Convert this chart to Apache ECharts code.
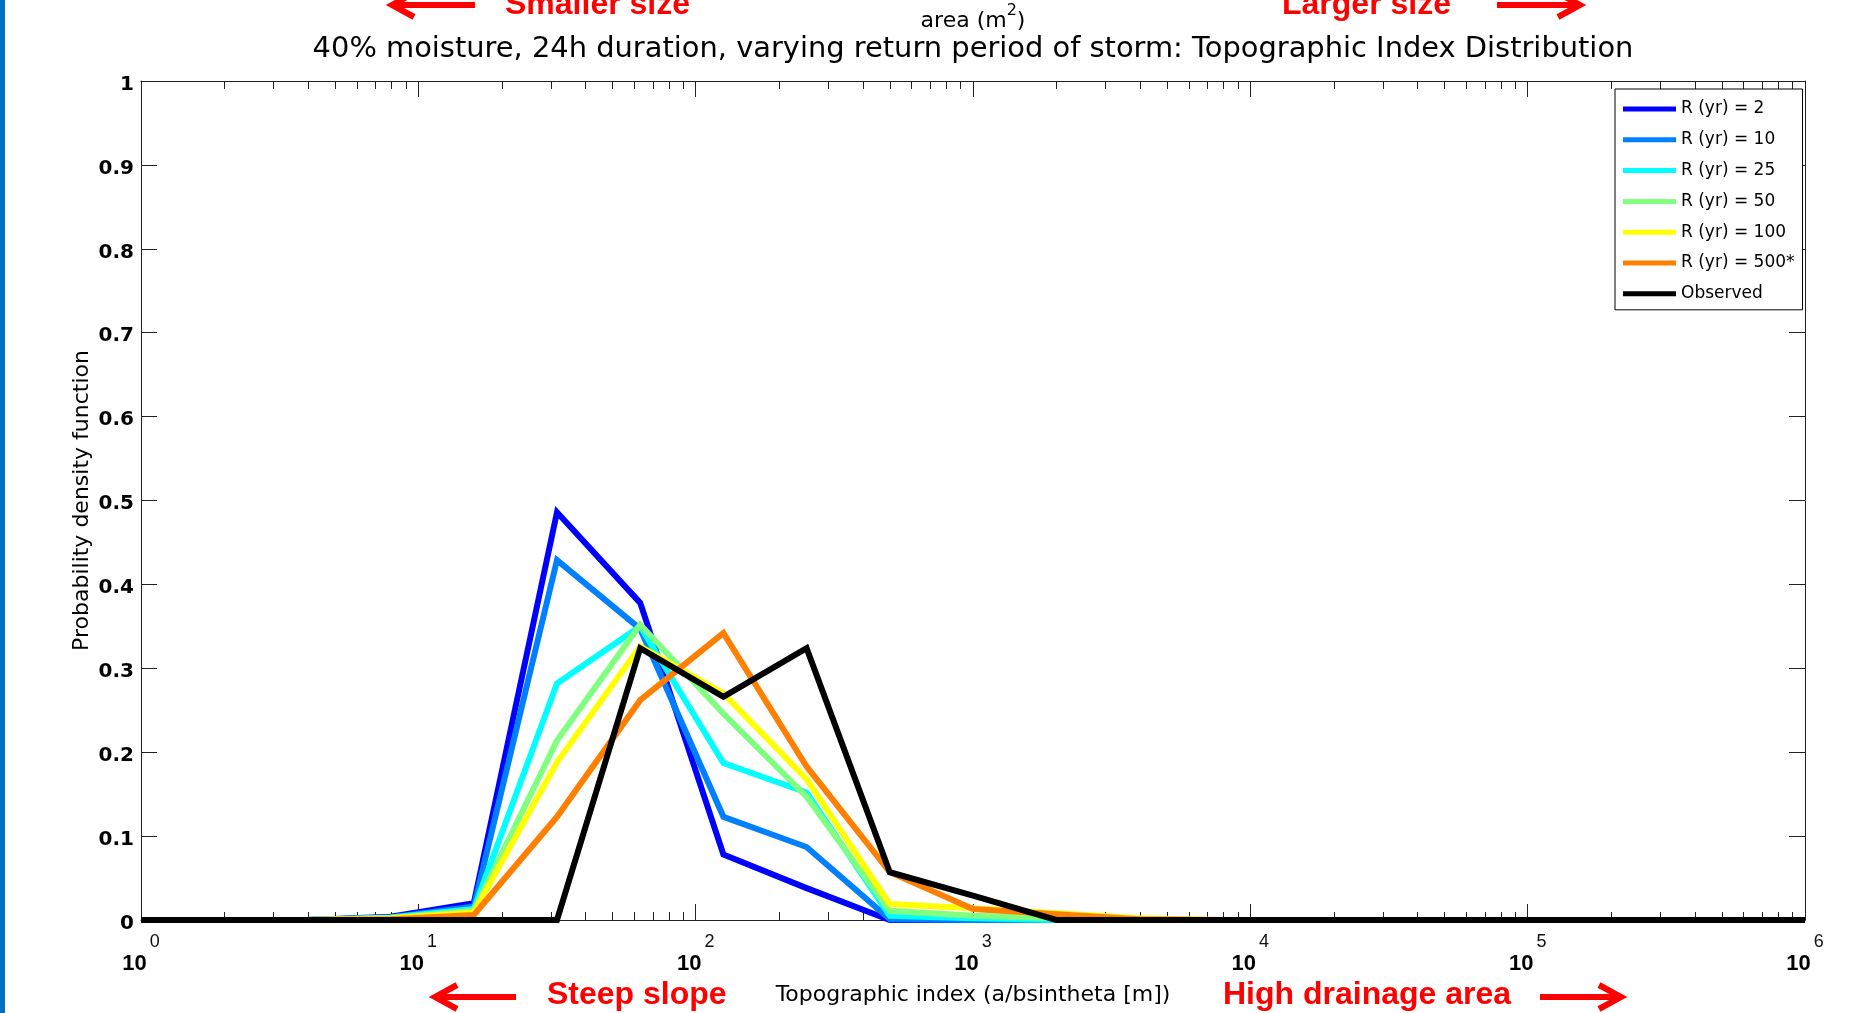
<!DOCTYPE html>
<html><head><meta charset="utf-8">
<script src="https://cdn.jsdelivr.net/npm/echarts@6/dist/echarts.min.js"></script>
<style>html,body{margin:0;padding:0;background:#fff;}#c{width:1872px;height:1013px;}</style>
</head><body><div id="c"></div>
<script>
// x positions are log10 of the topographic index
const xExponents = [0,0.3,0.6,0.9,1.2,1.5,1.8,2.1,2.4,2.7,3.0,3.3,3.6,3.9,4.2,4.5,4.8,5.1,5.4,5.7,6.0];
const seriesNames = ['R (yr) = 2','R (yr) = 10','R (yr) = 25','R (yr) = 50','R (yr) = 100','R (yr) = 500*','Observed'];
const seriesColors = ['#0000FF','#0080FF','#00FFFF','#80FF80','#FFFF00','#FF8000','#000000'];
const r2   = [0,0,0,0.004,0.020,0.486,0.378,0.078,0.038,0,0,0,0,0,0,0,0,0,0,0,0];
const r10  = [0,0,0,0.003,0.016,0.429,0.347,0.123,0.087,0.001,0,0,0,0,0,0,0,0,0,0,0];
const r25  = [0,0,0,0.003,0.013,0.282,0.350,0.187,0.152,0.005,0.002,0,0,0,0,0,0,0,0,0,0];
const r50  = [0,0,0,0.002,0.011,0.214,0.352,0.246,0.147,0.011,0.005,0.002,0,0,0,0,0,0,0,0,0];
const r100 = [0,0,0,0.002,0.009,0.188,0.326,0.270,0.168,0.019,0.014,0.008,0.002,0,0,0,0,0,0,0,0];
const r500 = [0,0,0,0.001,0.006,0.123,0.262,0.342,0.183,0.057,0.013,0.007,0.001,0,0,0,0,0,0,0,0];
const observed = [0,0,0,0,0,0,0.324,0.266,0.324,0.057,0.029,0,0,0,0,0,0,0,0,0,0];
const seriesValues = [r2, r10, r25, r50, r100, r500, observed];
const xTickExponents = [0,1,2,3,4,5,6];
const yTickLabels = ['0','0.1','0.2','0.3','0.4','0.5','0.6','0.7','0.8','0.9','1'];
const minorMultipliers = [2,3,4,5,6,7,8,9];

const minorPositions = [];
for (let k = 0; k < xTickExponents.length - 1; k++) {
  minorMultipliers.forEach(m => minorPositions.push([xTickExponents[k] + Math.log10(m), 0]));
}

const chart = echarts.init(document.getElementById('c'), null, {renderer: 'canvas'});
const normalFont = 'DejaVu Sans';
const series = [{
  type: 'custom', silent: true, z: 1,
  data: minorPositions, encode: {x: 0, y: 1},
  renderItem: function (params, api) {
    const x = api.value(0);
    const pb = api.coord([x, 0]);
    const pt = api.coord([x, 1]);
    const px = Math.round(pb[0]) + 0.5;
    return {type: 'group', children: [
      {type: 'line', shape: {x1: px, y1: pb[1], x2: px, y2: pb[1] - 8}, style: {stroke: '#222', lineWidth: 1}},
      {type: 'line', shape: {x1: px, y1: pt[1], x2: px, y2: pt[1] + 8}, style: {stroke: '#222', lineWidth: 1}}
    ]};
  }
}];
seriesNames.forEach((name, i) => {
  series.push({
    name: name, type: 'line', symbol: 'none', showSymbol: false, z: 2,
    data: xExponents.map((x, j) => [x, seriesValues[i][j]]),
    lineStyle: {width: 6, color: seriesColors[i], join: 'miter'},
    itemStyle: {color: seriesColors[i]}
  });
});

const axisLineStyle = {color: '#222', width: 1};
const option = {
  animation: false,
  backgroundColor: '#fff',
  title: {
    text: '40% moisture, 24h duration, varying return period of storm: Topographic Index Distribution',
    left: 968, textAlign: 'center', top: 30,
    textStyle: {fontFamily: normalFont, fontSize: 28.9, fontWeight: 'normal', color: '#000'}
  },
  grid: {left: 141, right: 67, top: 81, bottom: 93, containLabel: false},
  legend: {
    data: seriesNames, orient: 'vertical', left: 1615, top: 89,
    padding: [11, 8, 7, 8], itemGap: 12.8, itemWidth: 53, itemHeight: 5, icon: 'rect',
    backgroundColor: '#fff', borderColor: '#000', borderWidth: 1,
    textStyle: {fontFamily: normalFont, fontSize: 17, lineHeight: 18, color: '#000'}
  },
  xAxis: [{
    type: 'value', min: 0, max: 6, interval: 1, position: 'bottom',
    name: 'Topographic index (a/bsintheta [m])', nameLocation: 'middle', nameGap: 64, nameMoveOverlap: false,
    nameTextStyle: {fontFamily: normalFont, fontSize: 22, color: '#000'},
    axisLine: {show: true, onZero: false, lineStyle: axisLineStyle},
    axisTick: {show: true, inside: true, length: 16, lineStyle: axisLineStyle},
    splitLine: {show: false},
    axisLabel: {
      margin: 33, showMinLabel: true, showMaxLabel: true,
      formatter: function (v) { return '{b|10}{e|' + v + '}'; },
      rich: {
        b: {fontFamily: 'Liberation Sans', fontSize: 22, fontWeight: 'bold', lineHeight: 22, verticalAlign: 'bottom', color: '#000'},
        e: {fontFamily: 'Liberation Sans', fontSize: 18, lineHeight: 18, padding: [0, 0, 24, 3], verticalAlign: 'bottom', color: '#111'}
      }
    }
  }, {
    type: 'value', min: 0, max: 6, interval: 1, position: 'top',
    axisLine: {show: true, onZero: false, lineStyle: axisLineStyle},
    axisTick: {show: true, inside: true, length: 16, lineStyle: axisLineStyle},
    axisLabel: {show: false}, splitLine: {show: false}
  }],
  yAxis: [{
    type: 'value', min: 0, max: 1, interval: 0.1, position: 'left',
    name: 'Probability density function', nameLocation: 'middle', nameGap: 48, nameMoveOverlap: false,
    nameTextStyle: {fontFamily: normalFont, fontSize: 22, color: '#000'},
    axisLine: {show: true, onZero: false, lineStyle: axisLineStyle},
    axisTick: {show: true, inside: true, length: 16, lineStyle: axisLineStyle},
    splitLine: {show: false},
    axisLabel: {
      margin: 7, showMinLabel: true, showMaxLabel: true,
      formatter: function (v) { return '{a|' + yTickLabels[Math.round(v * 10)] + '}'; },
      rich: {
        a: {fontFamily: normalFont, fontSize: 20, fontWeight: 'bold', color: '#000', lineHeight: 20, padding: [7, 0, 0, 0]}
      }
    }
  }, {
    type: 'value', min: 0, max: 1, interval: 0.1, position: 'right',
    axisLine: {show: true, onZero: false, lineStyle: axisLineStyle},
    axisTick: {show: true, inside: true, length: 16, lineStyle: axisLineStyle},
    axisLabel: {show: false}, splitLine: {show: false}
  }],
  graphic: [
    {type: 'rect', left: 0, top: 0, shape: {x: 0, y: 0, width: 5, height: 1013}, style: {fill: '#0070C0'}, silent: true},
    {type: 'text', x: 973, y: 20.7, style: {
      text: '{n|area (m}{s|2}{n|)}', align: 'center', verticalAlign: 'middle',
      rich: {
        n: {fontFamily: normalFont, fontSize: 22, lineHeight: 24, verticalAlign: 'bottom', fill: '#000'},
        s: {fontFamily: normalFont, fontSize: 16, lineHeight: 16, padding: [0, 0, 14, 0], verticalAlign: 'bottom', fill: '#000'}
      }
    }},
    // red annotations
    {type: 'text', x: 505, y: 5.6, style: {text: 'Smaller size', fill: '#FF0000', font: 'bold 32px "Liberation Sans"', align: 'left', verticalAlign: 'middle'}},
    {type: 'text', x: 1282, y: 5.6, style: {text: 'Larger size', fill: '#FF0000', font: 'bold 32px "Liberation Sans"', align: 'left', verticalAlign: 'middle'}},
    {type: 'text', x: 547, y: 995.6, style: {text: 'Steep slope', fill: '#FF0000', font: 'bold 32px "Liberation Sans"', align: 'left', verticalAlign: 'middle'}},
    {type: 'text', x: 1223, y: 995.6, style: {text: 'High drainage area', fill: '#FF0000', font: 'bold 32px "Liberation Sans"', align: 'left', verticalAlign: 'middle'}},
    // arrows
    {type: 'polyline', shape: {points: [[475, 5], [394, 5]]}, style: {stroke: '#FF0000', lineWidth: 6, fill: null}},
    {type: 'polyline', shape: {points: [[414, -7], [392, 5], [414, 17]]}, style: {stroke: '#FF0000', lineWidth: 6, fill: null, lineJoin: 'miter'}},
    {type: 'polyline', shape: {points: [[1497, 5], [1578, 5]]}, style: {stroke: '#FF0000', lineWidth: 6, fill: null}},
    {type: 'polyline', shape: {points: [[1558, -7], [1580, 5], [1558, 17]]}, style: {stroke: '#FF0000', lineWidth: 6, fill: null, lineJoin: 'miter'}},
    {type: 'polyline', shape: {points: [[516, 997], [437, 997]]}, style: {stroke: '#FF0000', lineWidth: 6, fill: null}},
    {type: 'polyline', shape: {points: [[457, 985], [435, 997], [457, 1009]]}, style: {stroke: '#FF0000', lineWidth: 6, fill: null, lineJoin: 'miter'}},
    {type: 'polyline', shape: {points: [[1540, 997], [1619, 997]]}, style: {stroke: '#FF0000', lineWidth: 6, fill: null}},
    {type: 'polyline', shape: {points: [[1599, 985], [1621, 997], [1599, 1009]]}, style: {stroke: '#FF0000', lineWidth: 6, fill: null, lineJoin: 'miter'}}
  ],
  series: series
};
chart.setOption(option);
</script></body></html>
